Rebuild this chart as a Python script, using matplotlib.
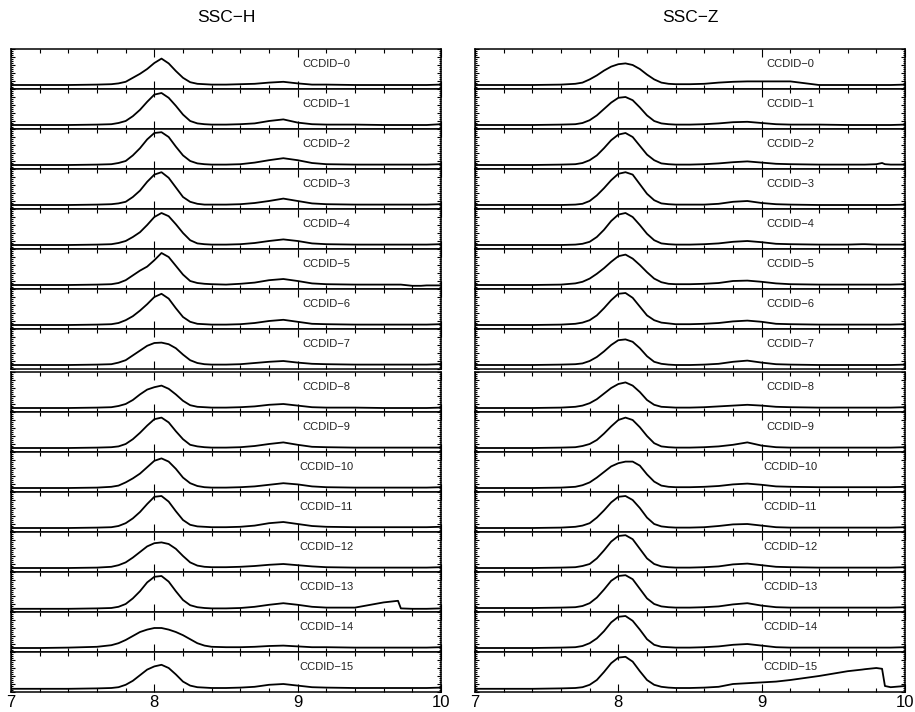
import matplotlib
matplotlib.use("Agg")
import matplotlib.pyplot as plt
from matplotlib.ticker import MultipleLocator

plt.rcParams['font.family'] = ['Liberation Sans', 'DejaVu Sans']

# energy grid (keV) the profiles were read on
x_grid = [7.0, 7.2, 7.4, 7.6, 7.7, 7.75, 7.8, 7.85, 7.9, 7.95, 8.0, 8.05, 8.1, 8.15,
          8.2, 8.25, 8.3, 8.35, 8.4, 8.5, 8.6, 8.7, 8.8, 8.9, 9.0, 9.1, 9.2, 9.4,
          9.6, 9.7, 9.72, 9.8, 9.84, 9.86, 9.9, 10.0]

ccd_labels = ["CCDID\u2212%d" % i for i in range(16)]
column_titles = ["SSC\u2212H", "SSC\u2212Z"]
x_ticks = [7, 8, 9, 10]

# normalised counts per CCD
ssc_h = [
    [.10,.10,.10,.11,.12,.14,.18,.28,.38,.50,.65,.76,.64,.45,.28,.17,.13,.12,.11,.11,.12,.13,.16,.18,.14,.11,.11,.10,.10,.10,.10,.10,.10,.10,.10,.11],
    [.10,.10,.10,.11,.12,.15,.20,.32,.48,.68,.86,.90,.78,.58,.36,.20,.14,.12,.11,.11,.12,.14,.20,.24,.16,.12,.11,.11,.10,.10,.10,.10,.10,.10,.10,.12],
    [.10,.10,.10,.11,.12,.15,.20,.34,.52,.74,.90,.92,.80,.56,.34,.20,.14,.12,.11,.11,.12,.16,.22,.27,.22,.15,.12,.11,.11,.11,.11,.11,.11,.11,.11,.12],
    [.10,.10,.10,.11,.12,.14,.18,.30,.46,.68,.86,.92,.78,.54,.30,.18,.13,.11,.11,.11,.12,.15,.20,.26,.20,.14,.12,.11,.11,.11,.11,.11,.11,.11,.11,.12],
    [.10,.10,.10,.11,.12,.15,.20,.30,.42,.60,.80,.90,.82,.62,.40,.22,.14,.12,.11,.11,.12,.15,.20,.24,.20,.14,.12,.11,.11,.11,.11,.11,.11,.11,.11,.12],
    [.10,.10,.10,.11,.12,.15,.22,.34,.46,.56,.72,.90,.80,.58,.36,.20,.15,.13,.12,.11,.13,.16,.22,.25,.20,.14,.12,.11,.11,.11,.11,.08,.08,.08,.09,.09],
    [.10,.10,.10,.11,.12,.15,.22,.32,.46,.62,.80,.88,.76,.52,.30,.18,.13,.12,.11,.11,.12,.15,.20,.23,.18,.13,.12,.11,.11,.11,.11,.11,.11,.11,.11,.12],
    [.10,.10,.10,.11,.12,.16,.22,.34,.46,.58,.65,.66,.62,.52,.36,.22,.15,.12,.11,.11,.12,.15,.18,.20,.16,.13,.12,.11,.11,.11,.11,.11,.11,.11,.11,.12],
    [.10,.10,.10,.11,.12,.15,.20,.30,.44,.56,.62,.66,.58,.44,.28,.17,.13,.12,.11,.11,.12,.14,.18,.20,.16,.12,.11,.11,.10,.10,.10,.10,.10,.10,.10,.11],
    [.10,.10,.10,.11,.12,.14,.20,.32,.48,.66,.82,.86,.74,.52,.32,.18,.14,.12,.11,.11,.12,.15,.20,.24,.18,.13,.12,.11,.11,.11,.11,.11,.11,.11,.11,.11],
    [.10,.10,.10,.11,.13,.16,.24,.34,.46,.62,.78,.84,.76,.58,.36,.22,.15,.12,.11,.11,.12,.14,.18,.22,.19,.14,.12,.11,.11,.11,.11,.11,.11,.11,.11,.12],
    [.10,.10,.10,.11,.12,.15,.22,.34,.50,.70,.88,.90,.76,.52,.30,.18,.14,.13,.12,.12,.13,.16,.22,.25,.20,.15,.13,.12,.12,.12,.12,.12,.12,.12,.12,.13],
    [.10,.10,.10,.11,.13,.17,.24,.36,.50,.64,.72,.74,.70,.58,.40,.24,.16,.13,.12,.12,.13,.15,.18,.20,.17,.14,.12,.11,.11,.11,.11,.11,.11,.11,.11,.12],
    [.08,.08,.08,.09,.10,.13,.20,.34,.52,.74,.88,.90,.76,.52,.30,.17,.12,.10,.09,.09,.10,.13,.18,.22,.18,.13,.11,.11,.24,.28,.09,.08,.08,.08,.08,.09],
    [.10,.10,.11,.13,.17,.22,.30,.40,.50,.56,.60,.60,.56,.50,.42,.32,.22,.16,.13,.12,.12,.13,.15,.16,.14,.12,.12,.11,.11,.11,.11,.11,.11,.11,.11,.12],
    [.08,.08,.08,.09,.10,.12,.18,.28,.42,.56,.64,.68,.60,.44,.26,.16,.12,.11,.10,.10,.11,.13,.18,.20,.16,.12,.11,.10,.10,.10,.10,.10,.10,.10,.10,.11],
]

ssc_z = [
    [.10,.10,.10,.11,.13,.16,.24,.34,.46,.56,.62,.64,.60,.50,.36,.24,.16,.13,.12,.12,.13,.16,.18,.19,.19,.19,.19,.10,.10,.10,.10,.10,.10,.10,.10,.11],
    [.10,.10,.10,.11,.12,.15,.22,.34,.50,.66,.78,.80,.72,.54,.34,.20,.14,.12,.11,.11,.12,.14,.17,.18,.15,.12,.11,.11,.10,.10,.10,.10,.10,.10,.10,.11],
    [.10,.10,.10,.11,.12,.15,.22,.34,.52,.72,.86,.90,.80,.58,.36,.22,.14,.12,.11,.11,.12,.14,.17,.19,.16,.13,.12,.11,.11,.11,.11,.12,.15,.12,.11,.11],
    [.10,.10,.10,.10,.11,.13,.20,.34,.52,.72,.88,.92,.86,.62,.38,.22,.14,.12,.11,.11,.11,.13,.18,.20,.15,.12,.11,.10,.10,.10,.10,.10,.10,.10,.10,.11],
    [.10,.10,.10,.10,.11,.13,.18,.30,.48,.70,.86,.90,.80,.60,.38,.22,.14,.12,.11,.11,.12,.14,.18,.20,.17,.13,.12,.11,.11,.12,.12,.11,.11,.11,.11,.11],
    [.10,.10,.10,.11,.14,.18,.26,.38,.52,.68,.82,.86,.76,.60,.42,.26,.17,.13,.12,.12,.13,.15,.20,.21,.18,.14,.12,.11,.11,.11,.11,.11,.11,.11,.11,.12],
    [.10,.10,.10,.11,.13,.16,.22,.34,.52,.72,.88,.90,.78,.56,.34,.22,.16,.14,.12,.12,.13,.15,.19,.21,.18,.13,.12,.11,.11,.11,.11,.11,.11,.11,.11,.12],
    [.10,.10,.10,.11,.12,.14,.20,.30,.44,.60,.72,.74,.68,.52,.32,.18,.13,.11,.10,.10,.11,.13,.18,.21,.16,.12,.11,.10,.10,.10,.10,.10,.10,.10,.10,.11],
    [.10,.10,.10,.11,.13,.16,.22,.32,.46,.60,.70,.74,.66,.50,.30,.18,.13,.12,.11,.11,.12,.14,.16,.18,.16,.13,.12,.11,.11,.11,.11,.11,.11,.11,.11,.12],
    [.10,.10,.10,.11,.12,.15,.20,.30,.46,.64,.80,.86,.80,.62,.40,.22,.14,.12,.11,.11,.12,.14,.18,.24,.16,.12,.11,.11,.11,.11,.11,.11,.11,.11,.11,.12],
    [.10,.10,.10,.11,.13,.17,.24,.36,.50,.64,.72,.76,.76,.66,.44,.26,.16,.13,.12,.12,.13,.15,.19,.21,.18,.14,.13,.12,.12,.12,.12,.12,.12,.12,.12,.13],
    [.10,.10,.10,.11,.13,.16,.22,.36,.54,.74,.88,.90,.80,.60,.36,.20,.14,.12,.11,.11,.12,.15,.19,.20,.16,.12,.11,.11,.11,.11,.11,.11,.11,.11,.11,.12],
    [.10,.10,.10,.11,.12,.15,.20,.34,.54,.76,.90,.92,.82,.58,.34,.20,.14,.12,.11,.11,.12,.14,.19,.21,.17,.13,.12,.11,.11,.11,.11,.11,.11,.11,.11,.12],
    [.10,.10,.10,.11,.12,.15,.22,.36,.56,.78,.90,.92,.82,.58,.34,.20,.14,.12,.11,.11,.12,.14,.19,.22,.16,.12,.11,.11,.11,.11,.11,.11,.11,.11,.11,.12],
    [.10,.10,.10,.11,.12,.15,.22,.34,.52,.74,.88,.90,.78,.56,.32,.18,.13,.12,.11,.11,.12,.14,.18,.20,.16,.12,.11,.11,.11,.11,.11,.11,.11,.11,.11,.12],
    [.08,.08,.08,.09,.10,.12,.18,.30,.50,.72,.86,.88,.76,.52,.30,.18,.13,.11,.10,.10,.11,.13,.20,.22,.24,.26,.30,.40,.52,.56,.57,.60,.58,.15,.12,.15],
]

W, H = 915, 712
fig = plt.figure(figsize=(W / 100, H / 100), dpi=100)

col_left = [11, 475]
col_width = 430
top = 49
panel_h = 40
gap = 3

for c, profiles in enumerate([ssc_h, ssc_z]):
    x0 = col_left[c]
    for i, y in enumerate(profiles):
        ytop = top + i * panel_h + (gap if i >= 8 else 0)
        ax = fig.add_axes([x0 / W, 1 - (ytop + panel_h) / H, col_width / W, panel_h / H])
        ax.plot(x_grid, y, color='black', lw=1.3)
        ax.set_xlim(7, 10)
        ax.set_ylim(0, 1)
        ax.text(9.2, 0.62, ccd_labels[i], ha='center', va='center', fontsize=8,
                color='#222222')

        ax.xaxis.set_major_locator(MultipleLocator(1))
        ax.xaxis.set_minor_locator(MultipleLocator(0.2))
        ax.yaxis.set_major_locator(MultipleLocator(0.2))
        ax.yaxis.set_minor_locator(MultipleLocator(0.05))
        ax.tick_params(which='both', direction='in', top=True, right=True, width=0.8)
        ax.tick_params(axis='x', which='major', length=6)
        ax.tick_params(axis='x', which='minor', length=3)
        ax.tick_params(axis='y', which='major', length=3)
        ax.tick_params(axis='y', which='minor', length=1.5)
        ax.set_yticklabels([])
        for s in ax.spines.values():
            s.set_linewidth(1.1)
        if i == 15:
            ax.set_xticks(x_ticks)
            ax.set_xticklabels([str(t) for t in x_ticks], fontsize=12)
            ax.tick_params(axis='x', which='major', pad=2)
        else:
            ax.set_xticklabels([])

    fig.text((x0 + col_width / 2) / W, 1 - 17 / H, column_titles[c],
             ha='center', va='center', fontsize=12.5)

fig.savefig("out.png", dpi=100)
